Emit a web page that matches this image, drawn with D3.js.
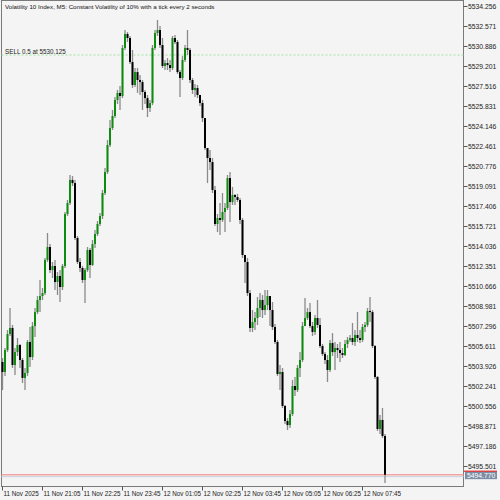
<!DOCTYPE html>
<html>
<head>
<meta charset="utf-8">
<script src="https://cdn.jsdelivr.net/npm/d3@7"></script>
<style>
  body { margin: 0; background: #f4f4f4; }
  text { font-family: "Liberation Sans", Arial, sans-serif; }
</style>
</head>
<body>
<div id="chart"></div>
<script>
// Data (M5 bars, open = previous close)
const firstOpen = 5504.26
const close = [5503.42,5505.27,5506.62,5507.13,5504.01,5505.10,5505.69,5504.43,5502.92,5503.34,
  5505.95,5504.68,5507.29,5508.47,5509.49,5509.82,5510.07,5512.86,5513.95,5512.01,
  5512.35,5511.00,5511.51,5510.58,5512.35,5516.73,5517.66,5519.60,5519.34,5514.71,
  5512.69,5512.18,5511.17,5512.01,5513.70,5512.44,5514.20,5515.05,5515.89,5516.56,
  5518.50,5520.27,5522.54,5523.98,5524.99,5526.34,5526.93,5526.67,5530.72,5531.90,
  5531.56,5529.54,5527.60,5528.69,5528.02,5527.85,5527.01,5526.50,5525.66,5526.08,
  5530.72,5531.98,5532.23,5530.97,5529.20,5529.45,5529.28,5529.03,5531.56,5531.22,
  5528.69,5528.19,5529.71,5530.72,5530.55,5528.02,5527.18,5527.35,5526.76,5526.08,
  5524.82,5522.29,5521.45,5521.11,5518.75,5515.89,5516.39,5516.23,5516.90,5517.24,
  5519.76,5517.74,5518.33,5518.16,5517.91,5516.23,5513.28,5512.69,5510.07,5507.13,
  5507.63,5507.97,5508.81,5509.49,5508.64,5509.06,5509.82,5508.64,5507.21,5505.95,
  5503.25,5503.42,5500.56,5499.29,5498.95,5499.88,5502.24,5501.90,5503.76,5504.43,
  5507.29,5507.97,5508.47,5507.29,5506.79,5507.97,5507.38,5505.61,5504.94,5504.43,
  5503.59,5505.86,5505.10,5505.44,5505.27,5505.02,5504.85,5505.78,5506.12,5506.28,
  5505.95,5506.54,5506.28,5506.12,5507.21,5507.38,5508.56,5508.47,5505.61,5503.00,
  5498.62,5499.38,5498.03,5494.77]
const high = [5504.60,5505.44,5506.96,5508.81,5507.38,5505.44,5506.28,5505.78,5504.60,5503.76,
  5506.12,5507.21,5507.63,5508.81,5509.82,5511.17,5510.50,5513.03,5515.13,5514.20,
  5512.69,5512.86,5511.85,5512.01,5512.52,5516.90,5517.91,5520.02,5519.93,5519.60,
  5514.88,5513.03,5512.35,5512.18,5513.95,5513.87,5514.54,5515.38,5516.14,5516.81,
  5518.75,5520.61,5522.97,5524.65,5525.49,5526.59,5527.18,5527.51,5530.97,5532.23,
  5532.06,5531.73,5530.55,5529.03,5529.03,5528.44,5528.02,5527.18,5526.76,5526.34,
  5530.97,5532.23,5533.08,5532.57,5531.56,5529.71,5529.87,5529.71,5531.73,5531.81,
  5531.39,5528.86,5530.04,5530.97,5532.23,5530.72,5528.19,5527.68,5527.60,5526.76,
  5526.34,5524.82,5522.29,5522.12,5521.45,5519.09,5516.73,5517.66,5518.50,5517.66,
  5520.02,5520.27,5519.01,5518.42,5518.42,5518.08,5516.39,5513.28,5513.03,5510.33,
  5508.64,5508.47,5509.74,5510.07,5509.91,5510.33,5510.33,5509.82,5509.32,5507.46,
  5506.12,5504.01,5503.76,5500.64,5499.54,5500.22,5502.75,5503.00,5504.01,5505.10,
  5507.63,5509.65,5508.81,5509.24,5507.63,5508.22,5509.49,5507.97,5505.78,5505.10,
  5504.85,5506.12,5506.70,5505.95,5505.78,5505.95,5505.44,5506.12,5506.37,5506.54,
  5507.55,5506.96,5508.47,5506.96,5507.46,5507.63,5508.81,5509.74,5508.64,5505.69,
  5503.08,5499.80,5500.39,5498.20]
const low = [5501.90,5503.08,5505.10,5506.45,5503.76,5503.17,5504.77,5503.76,5502.49,5501.90,
  5503.08,5503.84,5504.43,5506.37,5508.30,5508.47,5509.49,5509.91,5512.69,5511.76,
  5511.34,5510.33,5509.91,5509.32,5510.33,5512.18,5516.56,5517.49,5519.09,5514.54,
  5512.52,5511.85,5510.92,5509.24,5511.85,5511.34,5512.35,5513.87,5514.88,5515.72,
  5516.31,5518.33,5520.10,5522.38,5523.81,5524.82,5526.00,5525.49,5526.50,5530.55,
  5531.22,5529.37,5527.35,5527.43,5526.93,5526.76,5525.49,5526.00,5524.90,5525.32,
  5525.91,5530.55,5531.73,5530.72,5529.03,5528.86,5528.86,5528.69,5528.86,5531.05,
  5528.53,5526.59,5528.02,5529.54,5530.13,5527.77,5526.84,5526.59,5526.50,5525.83,
  5524.48,5522.12,5519.34,5520.44,5518.50,5515.72,5515.21,5514.96,5516.06,5515.21,
  5517.07,5516.06,5517.49,5517.49,5517.74,5515.89,5513.03,5510.92,5509.82,5506.79,
  5506.79,5506.96,5507.38,5508.05,5507.97,5508.22,5508.64,5507.29,5506.96,5505.78,
  5503.08,5501.90,5500.39,5499.04,5498.53,5498.70,5499.71,5501.40,5501.73,5503.00,
  5504.26,5507.29,5507.80,5507.13,5506.45,5506.54,5507.13,5505.44,5504.77,5504.09,
  5502.58,5503.42,5504.77,5503.59,5504.60,5504.26,5504.60,5504.77,5505.44,5505.95,
  5505.69,5505.61,5505.95,5505.86,5505.95,5506.79,5507.21,5507.63,5505.44,5502.83,
  5498.45,5498.20,5497.86,5494.07]

const priceTicks = [5534.256,5532.571,5530.886,5529.201,5527.516,5525.831,5524.146,5522.461,
  5520.776,5519.091,5517.406,5515.721,5514.036,5512.351,5510.666,5508.981,5507.296,5505.611,
  5503.926,5502.241,5500.556,5498.871,5497.186,5495.501]
const timeTickBars = [0,16,32,48,64,80,96,112,128,144]
const timeLabels = ["11 Nov 2025","11 Nov 21:05","11 Nov 22:25","11 Nov 23:45","12 Nov 01:05",
  "12 Nov 02:25","12 Nov 03:45","12 Nov 05:05","12 Nov 06:25","12 Nov 07:45"]

const title = "Volatility 10 Index, M5:  Constant Volatility of 10% with a tick every 2 seconds"
const sellPrice = 5530.125
const sellLabel = "SELL 0.5 at 5530.125"
const lastPrice = 5494.770

// Dimensions
const dims = { width: 500, height: 500, left: 1.5, right: 463.5, top: 0.5, bottom: 486.5 }

const svg = d3.select('#chart').append('svg')
  .attr('width', dims.width)
  .attr('height', dims.height)

svg.append('rect')
  .attr('width', dims.width).attr('height', dims.height)
  .attr('fill', '#f4f4f4')

// Scales
const xScale = d3.scaleLinear()
  .domain([0, close.length - 1])
  .range([2.5, 385])

const yScale = d3.scaleLinear()
  .domain([priceTicks[priceTicks.length - 1], priceTicks[0]])
  .range([466, 6])

const opens = [firstOpen, ...close.slice(0, -1)]
const bars = close.map((c, i) => ({ i, o: opens[i], c, h: high[i], l: low[i] }))

// frame
svg.append('rect')
  .attr('x', dims.left).attr('y', dims.top)
  .attr('width', dims.right - dims.left)
  .attr('height', dims.bottom - dims.top)
  .attr('fill', 'none')
  .attr('stroke', '#7a7a7a')
  .attr('stroke-width', 1)

// sell level
svg.append('line')
  .attr('x1', dims.left).attr('x2', dims.right)
  .attr('y1', yScale(sellPrice)).attr('y2', yScale(sellPrice))
  .attr('stroke', '#9fe09f')
  .attr('stroke-dasharray', '2,2')
svg.append('text')
  .attr('x', 5).attr('y', yScale(sellPrice) - 1.5)
  .attr('font-size', 6.3)
  .attr('fill', '#222')
  .text(sellLabel)

// price lines
svg.append('line')
  .attr('x1', dims.left).attr('x2', dims.right)
  .attr('y1', yScale(lastPrice)).attr('y2', yScale(lastPrice))
  .attr('stroke', '#f3a3a3').attr('stroke-width', 1.6)
svg.append('line')
  .attr('x1', dims.left).attr('x2', dims.right)
  .attr('y1', yScale(lastPrice) + 2).attr('y2', yScale(lastPrice) + 2)
  .attr('stroke', '#cfd8e2').attr('stroke-width', 1.2)

// candles
const candles = svg.append('g')
candles.selectAll('line')
  .data(bars)
  .join('line')
  .attr('x1', d => xScale(d.i)).attr('x2', d => xScale(d.i))
  .attr('y1', d => yScale(d.h)).attr('y2', d => yScale(d.l))
  .attr('stroke', '#8a8a8a')
  .attr('stroke-width', 1.3)

candles.selectAll('rect')
  .data(bars)
  .join('rect')
  .attr('x', d => xScale(d.i) - 1)
  .attr('width', 2)
  .attr('y', d => yScale(Math.max(d.o, d.c)))
  .attr('height', d => Math.max(Math.abs(yScale(d.o) - yScale(d.c)), 0.8))
  .attr('fill', d => d.c >= d.o ? '#0f8c0f' : '#000')

// price axis
const yAxis = d3.axisRight(yScale)
  .tickValues(priceTicks)
  .tickFormat(d3.format('.3f'))
  .tickSize(4)
  .tickSizeOuter(0)
const yAxisGroup = svg.append('g')
  .attr('transform', `translate(${dims.right},0)`)
  .call(yAxis)
yAxisGroup.select('.domain').remove()
yAxisGroup.selectAll('line').attr('stroke', '#555')
yAxisGroup.selectAll('text')
  .attr('x', 4.5)
  .attr('font-size', 6.8)
  .attr('font-family', '"Liberation Sans", Arial, sans-serif')
  .attr('fill', '#222')

// time axis
const xAxis = d3.axisBottom(xScale)
  .tickValues(timeTickBars)
  .tickFormat((d, i) => timeLabels[i])
  .tickSize(4)
  .tickSizeOuter(0)
const xAxisGroup = svg.append('g')
  .attr('transform', `translate(-0.5,${dims.bottom})`)
  .call(xAxis)
xAxisGroup.select('.domain').remove()
xAxisGroup.selectAll('line').attr('stroke', '#555')
xAxisGroup.selectAll('text')
  .attr('text-anchor', 'start')
  .attr('x', 1)
  .attr('y', 4)
  .attr('dy', '0.85em')
  .attr('font-size', 6.3)
  .attr('font-family', '"Liberation Sans", Arial, sans-serif')
  .attr('fill', '#222')

// last price box
const ly = yScale(lastPrice)
svg.append('rect')
  .attr('x', 465).attr('y', ly - 3).attr('width', 32).attr('height', 7.5)
  .attr('fill', '#7b8ca4')
svg.append('line')
  .attr('x1', 464).attr('x2', 497).attr('y1', ly - 3.5).attr('y2', ly - 3.5)
  .attr('stroke', '#e00000').attr('stroke-width', 1)
svg.append('text')
  .attr('x', 467).attr('y', ly + 3.3)
  .attr('font-size', 6.8)
  .attr('fill', '#fff')
  .text(d3.format('.3f')(lastPrice))

// title
svg.append('text')
  .attr('x', 5).attr('y', 8.5)
  .attr('font-size', 6.2)
  .attr('fill', '#111')
  .text(title)
</script>
</body>
</html>
